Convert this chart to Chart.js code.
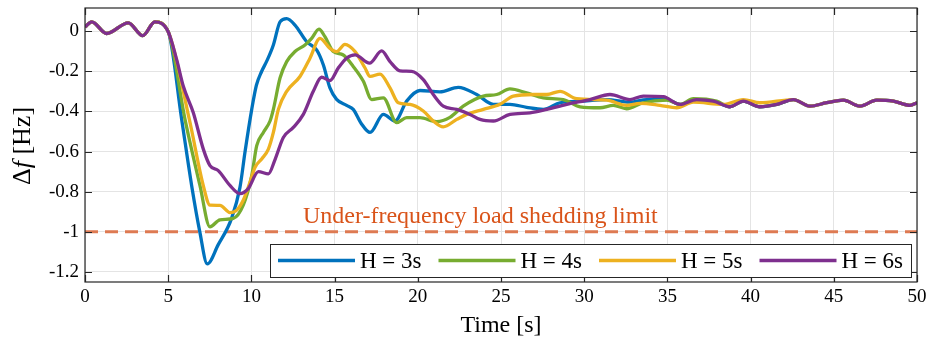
<!DOCTYPE html>
<html>
<head>
<meta charset="utf-8">
<script src="https://cdn.jsdelivr.net/npm/chart.js@4.4.0/dist/chart.umd.min.js"></script>
<style>
  html, body { margin: 0; padding: 0; background: #fff; }
  #wrap { width: 927px; height: 340px; position: relative; }
</style>
</head>
<body>
<div id="wrap"><canvas id="freqChart"></canvas></div>
<script>
// axis ticks
const xTicks = [0, 5, 10, 15, 20, 25, 30, 35, 40, 45, 50];
const yTicks = [0, -0.2, -0.4, -0.6, -0.8, -1, -1.2];

const seriesLabels = ['H = 3s', 'H = 4s', 'H = 5s', 'H = 6s'];
const seriesColors = ['#0072BD', '#77AC30', '#EDB120', '#7E2F8E'];
const limitValue = -1;
const limitLabel = 'Under-frequency load shedding limit';

// common part before the disturbance (t < 5 s)
const tPre = [0, 0.4, 1.3, 2.6, 3.47, 4.2, 5.0];
const vPre = [0.02, 0.046, -0.012, 0.041, -0.023, 0.046, -0.003];

// H = 3s
const tH3 = [5.81, 6.41, 6.9, 7.35, 8.0, 8.81, 9.31, 9.62, 10.02, 10.3, 10.62, 10.92, 11.32, 11.72, 12.12, 12.62, 13.32, 13.92, 14.32, 14.72, 15.12, 15.72, 16.12, 16.6, 17.13, 17.93, 18.63, 19.33, 20.13, 21.33, 22.43, 23.54, 24.54, 25.54, 26.54, 27.54, 28.55, 29.95, 31.35, 32.75, 33.75, 34.96];
const vH3 = [-0.44, -0.77, -1.0, -1.16, -1.065, -0.933, -0.78, -0.6, -0.39, -0.27, -0.2, -0.15, -0.069, 0.046, 0.062, 0.03, -0.053, -0.094, -0.168, -0.283, -0.34, -0.37, -0.39, -0.46, -0.505, -0.415, -0.448, -0.349, -0.296, -0.303, -0.28, -0.316, -0.365, -0.365, -0.38, -0.39, -0.357, -0.349, -0.341, -0.354, -0.341, -0.341];

// H = 4s
const tH4 = [6.01, 6.91, 7.51, 8.11, 8.91, 9.51, 10.02, 10.32, 10.72, 11.12, 11.32, 11.72, 12.12, 12.62, 13.22, 13.62, 14.06, 14.42, 14.92, 15.52, 16.12, 16.73, 17.23, 17.93, 18.73, 19.33, 20.13, 21.13, 21.93, 22.73, 23.94, 24.74, 25.54, 26.54, 27.54, 28.74, 29.75, 30.95, 31.75, 32.55, 33.55, 34.96, 35.76, 36.56, 37.96];
const vH4 = [-0.44, -0.77, -0.975, -0.94, -0.933, -0.867, -0.72, -0.571, -0.505, -0.448, -0.39, -0.234, -0.152, -0.102, -0.069, -0.036, 0.01, -0.028, -0.102, -0.119, -0.176, -0.25, -0.341, -0.333, -0.456, -0.431, -0.431, -0.451, -0.43, -0.374, -0.324, -0.316, -0.288, -0.308, -0.333, -0.341, -0.377, -0.382, -0.37, -0.387, -0.357, -0.344, -0.365, -0.337, -0.349];

// H = 5s
const tH5 = [6.27, 7.11, 7.51, 8.11, 8.71, 9.12, 9.51, 9.92, 10.22, 10.62, 11.02, 11.32, 11.62, 12.12, 12.92, 13.52, 14.12, 14.72, 15.12, 15.62, 16.23, 16.83, 17.13, 17.73, 18.33, 18.83, 19.53, 20.33, 20.93, 21.53, 22.34, 22.94, 23.94, 24.94, 25.74, 26.94, 27.75, 28.55, 29.55, 31.35, 32.55, 33.35, 34.55, 35.56, 36.56, 38.36, 39.56, 40.56, 42.57];
const vH5 = [-0.44, -0.77, -0.867, -0.868, -0.904, -0.892, -0.843, -0.752, -0.678, -0.637, -0.588, -0.505, -0.39, -0.3, -0.226, -0.135, -0.036, -0.086, -0.102, -0.066, -0.102, -0.184, -0.226, -0.214, -0.283, -0.357, -0.365, -0.398, -0.448, -0.477, -0.44, -0.415, -0.39, -0.365, -0.324, -0.316, -0.316, -0.3, -0.337, -0.344, -0.37, -0.36, -0.37, -0.382, -0.354, -0.365, -0.341, -0.357, -0.341];

// H = 6s
const tH6 = [5.51, 5.91, 6.51, 7.11, 7.51, 8.01, 8.71, 9.31, 9.81, 10.42, 11.02, 11.42, 11.92, 12.52, 13.12, 13.72, 14.22, 14.72, 15.22, 15.72, 16.23, 17.1, 17.83, 18.33, 18.93, 19.63, 20.33, 20.93, 21.53, 22.34, 23.14, 23.74, 24.54, 25.54, 26.74, 27.75, 28.95, 30.35, 31.55, 32.75, 33.55, 34.75];
const vH6 = [-0.143, -0.275, -0.407, -0.588, -0.67, -0.695, -0.769, -0.81, -0.785, -0.70, -0.711, -0.64, -0.53, -0.48, -0.415, -0.3, -0.23, -0.247, -0.184, -0.135, -0.119, -0.16, -0.099, -0.152, -0.198, -0.201, -0.242, -0.316, -0.374, -0.39, -0.415, -0.44, -0.448, -0.415, -0.407, -0.39, -0.365, -0.341, -0.316, -0.341, -0.324, -0.327];

// settled part where all curves overlap
const tTail = [35.76, 36.76, 37.76, 38.76, 39.56, 40.56, 41.57, 42.57, 43.57, 44.57, 45.57, 46.57, 47.58, 48.58, 49.58, 50];
const vTail = [-0.365, -0.341, -0.349, -0.377, -0.349, -0.377, -0.365, -0.341, -0.374, -0.357, -0.344, -0.374, -0.344, -0.349, -0.37, -0.357];
const tailFrom = [0, 3, 8, 0];

const times = [tH3, tH4, tH5, tH6];
const values = [vH3, vH4, vH5, vH6];

function buildSeries(k) {
    const ts = tPre.concat(times[k], tTail.slice(tailFrom[k]));
    const vs = vPre.concat(values[k], vTail.slice(tailFrom[k]));
    return ts.map((x, i) => ({ x: x, y: vs[i] }));
}

const serif = '"Liberation Serif", "Times New Roman", serif';

const datasets = seriesLabels.map((label, k) => ({
    label: label,
    data: buildSeries(k),
    borderColor: seriesColors[k],
    borderWidth: 3.3,
    pointRadius: 0,
    fill: false,
    cubicInterpolationMode: 'monotone',
    order: 4 - k
}));
datasets.push({
    label: limitLabel,
    isLimit: true,
    data: [{ x: xTicks[0], y: limitValue }, { x: xTicks[xTicks.length - 1], y: limitValue }],
    borderColor: '#DE7A52',
    borderWidth: 3,
    borderDash: [13, 7],
    pointRadius: 0,
    fill: false,
    order: 5
});

// no extra room for the end labels, the frame is fixed
function noLabelPadding(s) {
    s.paddingTop = 0; s.paddingBottom = 0; s.paddingLeft = 0; s.paddingRight = 0;
}

// box, inward ticks, y title, limit text, legend
const frame = {
    id: 'frame',
    afterDatasetsDraw(chart) {
        const ctx = chart.ctx;
        const a = chart.chartArea;
        const x = chart.scales.x, y = chart.scales.y;
        ctx.save();

        ctx.font = '24px ' + serif;
        ctx.fillStyle = '#D95319';
        ctx.textBaseline = 'alphabetic';
        ctx.textAlign = 'left';
        ctx.fillText(limitLabel, x.getPixelForValue(13.1), y.getPixelForValue(limitValue) - 9);

        ctx.strokeStyle = '#262626';
        ctx.lineWidth = 1.2;
        ctx.strokeRect(a.left, a.top, a.right - a.left, a.bottom - a.top);
        const tl = 7;
        ctx.beginPath();
        xTicks.forEach(v => {
            const px = Math.round(x.getPixelForValue(v)) + 0.5;
            ctx.moveTo(px, a.bottom); ctx.lineTo(px, a.bottom - tl);
            ctx.moveTo(px, a.top); ctx.lineTo(px, a.top + tl);
        });
        yTicks.forEach(v => {
            const py = Math.round(y.getPixelForValue(v)) + 0.5;
            ctx.moveTo(a.left, py); ctx.lineTo(a.left + tl, py);
            ctx.moveTo(a.right, py); ctx.lineTo(a.right - tl, py);
        });
        ctx.stroke();

        // legend
        const box = { left: 270, top: 244, width: 641, height: 33 };
        ctx.fillStyle = '#fff';
        ctx.fillRect(box.left, box.top, box.width, box.height);
        ctx.strokeStyle = '#262626';
        ctx.lineWidth = 1;
        ctx.strokeRect(box.left + 0.5, box.top + 0.5, box.width, box.height);
        const ym = box.top + box.height / 2;
        chart.data.datasets.filter(d => !d.isLimit).forEach((d, i) => {
            const x0 = box.left + 8 + i * 160.5;
            ctx.strokeStyle = d.borderColor;
            ctx.lineWidth = 3.3;
            ctx.beginPath();
            ctx.moveTo(x0, ym); ctx.lineTo(x0 + 77, ym);
            ctx.stroke();
            ctx.fillStyle = '#000';
            ctx.font = '23px ' + serif;
            ctx.textBaseline = 'middle';
            ctx.fillText(d.label, x0 + 82, ym + 1);
        });

        // y axis title: Δf [Hz] with italic f
        ctx.translate(30, 146);
        ctx.rotate(-Math.PI / 2);
        ctx.fillStyle = '#000';
        ctx.textBaseline = 'alphabetic';
        const parts = [['Δ', '26px ' + serif], ['f', 'italic 26px ' + serif], [' [Hz]', '26px ' + serif]];
        let total = 0;
        parts.forEach(p => { ctx.font = p[1]; total += ctx.measureText(p[0]).width; });
        let cx = -total / 2;
        parts.forEach(p => { ctx.font = p[1]; ctx.fillText(p[0], cx, 0); cx += ctx.measureText(p[0]).width; });
        ctx.restore();
    }
};

new Chart(document.getElementById('freqChart'), {
    type: 'line',
    data: { datasets: datasets },
    options: {
        responsive: true,
        maintainAspectRatio: false,
        animation: false,
        layout: { padding: { left: 0, right: 10, top: 8, bottom: 0 } },
        plugins: { legend: { display: false }, tooltip: { enabled: false } },
        scales: {
            x: {
                type: 'linear',
                min: xTicks[0],
                max: xTicks[xTicks.length - 1],
                afterBuildTicks: s => { s.ticks = xTicks.map(v => ({ value: v })); },
                afterFit: s => { s.height = 58; noLabelPadding(s); },
                grid: { color: '#e4e4e4', lineWidth: 1, drawTicks: false },
                border: { display: false },
                ticks: { color: '#000', font: { family: serif, size: 19 }, padding: 4, maxRotation: 0, autoSkip: false },
                title: { display: true, text: 'Time [s]', color: '#000', font: { family: serif, size: 24 }, padding: { top: 0, bottom: 0 } }
            },
            y: {
                type: 'linear',
                min: -1.25,
                max: 0.115,
                afterBuildTicks: s => { s.ticks = yTicks.map(v => ({ value: v })); },
                afterFit: s => { s.width = 85; noLabelPadding(s); },
                grid: { color: '#e4e4e4', lineWidth: 1, drawTicks: false },
                border: { display: false },
                ticks: { color: '#000', font: { family: serif, size: 19 }, padding: 6, callback: v => String(Math.round(v * 10) / 10) }
            }
        }
    },
    plugins: [frame]
});
</script>
</body>
</html>
